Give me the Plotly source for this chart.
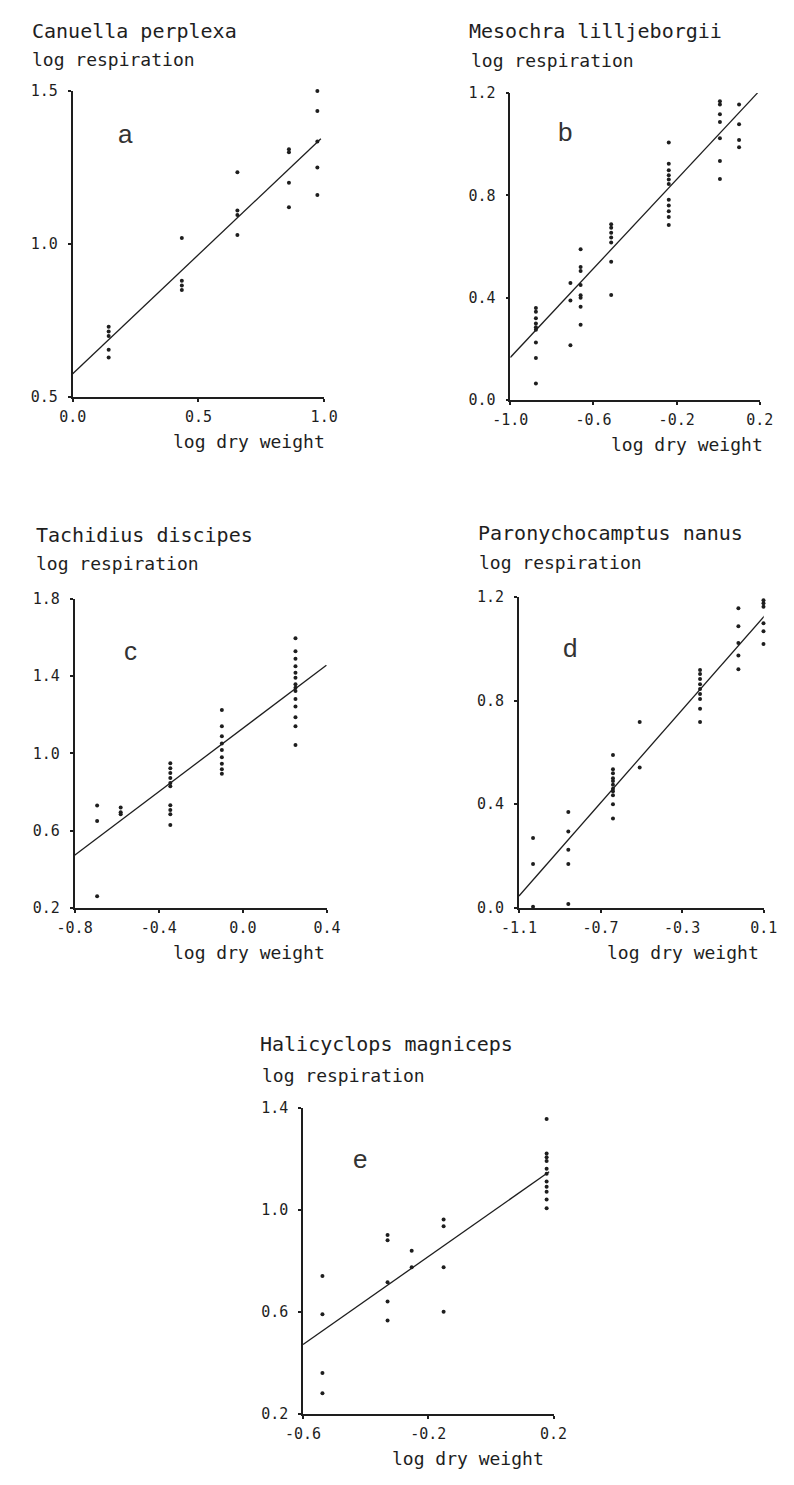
import plotly.graph_objects as go

W, H = 794, 1485

# ---- measured data: log dry weight groups and log respiration per animal ----
# a: Canuella perplexa
a_weight = [0.143, 0.434, 0.655, 0.860, 0.973]
a_resp = [
    [0.73, 0.715, 0.70, 0.655, 0.63],
    [1.02, 0.88, 0.865, 0.85],
    [1.235, 1.11, 1.095, 1.03],
    [1.31, 1.30, 1.20, 1.12],
    [1.50, 1.435, 1.335, 1.25, 1.16],
]
a_fit = (0.577, 0.777)          # intercept, slope
a_fit_span = (0.0, 0.987)

# b: Mesochra lilljeborgii
b_weight = [-0.877, -0.711, -0.662, -0.515, -0.238, 0.008, 0.100]
b_resp = [
    [0.36, 0.345, 0.32, 0.30, 0.285, 0.275, 0.225, 0.165, 0.065],
    [0.458, 0.389, 0.215],
    [0.59, 0.52, 0.505, 0.45, 0.41, 0.40, 0.365, 0.295],
    [0.687, 0.674, 0.654, 0.635, 0.616, 0.541, 0.411],
    [1.007, 0.924, 0.898, 0.879, 0.862, 0.844, 0.783, 0.760, 0.738, 0.716, 0.684],
    [1.168, 1.155, 1.117, 1.087, 1.023, 0.934, 0.864],
    [1.155, 1.078, 1.016, 0.988],
]
b_fit = (1.036, 0.869)
b_fit_span = (-1.0, 0.189)

# c: Tachidius discipes
c_weight = [-0.693, -0.581, -0.345, -0.100, 0.250]
c_resp = [
    [0.73, 0.65, 0.26],
    [0.72, 0.695, 0.685],
    [0.949, 0.923, 0.898, 0.872, 0.847, 0.830, 0.731, 0.707, 0.685, 0.629],
    [1.225, 1.140, 1.089, 1.051, 1.017, 0.980, 0.946, 0.918, 0.894],
    [1.596, 1.528, 1.490, 1.451, 1.417, 1.391, 1.357, 1.340, 1.323, 1.281,
     1.242, 1.187, 1.140, 1.043],
]
c_fit = (1.130, 0.822)
c_fit_span = (-0.8, 0.397)

# d: Paronychocamptus nanus
d_weight = [-1.031, -0.858, -0.639, -0.508, -0.212, -0.024, 0.099]
d_resp = [
    [0.27, 0.17, 0.005],
    [0.37, 0.295, 0.225, 0.17, 0.015],
    [0.59, 0.535, 0.52, 0.50, 0.49, 0.475, 0.46, 0.45, 0.435, 0.40, 0.345],
    [0.717, 0.542],
    [0.918, 0.902, 0.883, 0.863, 0.844, 0.825, 0.806, 0.768, 0.717],
    [1.213, 1.156, 1.086, 1.022, 0.974, 0.921],
    [1.187, 1.175, 1.162, 1.098, 1.067, 1.018],
]
d_fit = (1.033, 0.897)
d_fit_span = (-1.1, 0.109)

# e: Halicyclops magniceps
e_weight = [-0.538, -0.330, -0.253, -0.151, 0.178]
e_resp = [
    [0.74, 0.59, 0.36, 0.28],
    [0.90, 0.88, 0.715, 0.64, 0.565],
    [0.839, 0.774],
    [0.961, 0.935, 0.774, 0.600],
    [1.355, 1.22, 1.205, 1.19, 1.16, 1.14, 1.11, 1.09, 1.07, 1.04, 1.005],
]
e_fit = (0.988, 0.861)
e_fit_span = (-0.6, 0.186)

species = ["Canuella perplexa", "Mesochra lilljeborgii", "Tachidius discipes",
           "Paronychocamptus nanus", "Halicyclops magniceps"]
letters = ["a", "b", "c", "d", "e"]
letter_pos = [(0.21, 1.36), (-0.738, 1.046), (-0.532, 1.528), (-0.85, 1.003), (-0.417, 1.20)]

x_ticks = [[0.0, 0.5, 1.0], [-1.0, -0.6, -0.2, 0.2], [-0.8, -0.4, 0.0, 0.4],
           [-1.1, -0.7, -0.3, 0.1], [-0.6, -0.2, 0.2]]
y_ticks = [[0.5, 1.0, 1.5], [0.0, 0.4, 0.8, 1.2], [0.2, 0.6, 1.0, 1.4, 1.8],
           [0.0, 0.4, 0.8, 1.2], [0.2, 0.6, 1.0, 1.4]]

# ---- page geometry (pixels): plot box left, right, top, bottom ----
boxes = [(57, 319, 83, 393), (513, 773, 85, 396), (59, 322, 597, 910),
         (522, 777, 595, 910), (297, 558, 1112, 1422)]
title_pos = [(12, 22), (468, 22), (17, 532), (477, 530), (250, 1048)]
ylab_pos = [(13, 51), (470, 52), (17, 561), (478, 560), (252, 1080)]
xlab_right = [322, 778, 322, 774, 550]

weights = [a_weight, b_weight, c_weight, d_weight, e_weight]
resps = [a_resp, b_resp, c_resp, d_resp, e_resp]
fits = [a_fit, b_fit, c_fit, d_fit, e_fit]
spans = [a_fit_span, b_fit_span, c_fit_span, d_fit_span, e_fit_span]

INK = "#1e1e1e"
MONO = "DejaVu Sans Mono"

fig = go.Figure()
layout = dict(width=W, height=H, margin=dict(l=0, r=0, t=0, b=0),
              paper_bgcolor="white", plot_bgcolor="white", showlegend=False)
annotations = []

for i in range(5):
    n = "" if i == 0 else str(i + 1)
    xs, ys = [], []
    for w, group in zip(weights[i], resps[i]):
        xs += [w] * len(group)
        ys += group
    fig.add_trace(go.Scatter(x=xs, y=ys, mode="markers", xaxis="x" + n, yaxis="y" + n,
                             marker=dict(size=4, color=INK, symbol="circle"),
                             cliponaxis=False))
    b0, b1 = fits[i]
    lx = list(spans[i])
    fig.add_trace(go.Scatter(x=lx, y=[b0 + b1 * v for v in lx], mode="lines",
                             xaxis="x" + n, yaxis="y" + n,
                             line=dict(color=INK, width=1.3), cliponaxis=False))

    left, right, top, bottom = boxes[i]
    xt, yt = x_ticks[i], y_ticks[i]
    common = dict(showline=True, linecolor=INK, linewidth=1.6, showgrid=False,
                  zeroline=False, ticks="outside", ticklen=3, tickwidth=1.5,
                  tickcolor=INK, tickfont=dict(family=MONO, size=15, color=INK),
                  fixedrange=True)
    layout["xaxis" + n] = dict(common, domain=[left / W, right / W],
                               range=[xt[0], xt[-1]], tickvals=xt,
                               ticktext=[f"{v:.1f}" for v in xt],
                               anchor="y" + n, ticklabelstandoff=2)
    layout["yaxis" + n] = dict(common, domain=[1 - bottom / H, 1 - top / H],
                               range=[yt[0], yt[-1]], tickvals=yt,
                               ticktext=[f"{v:.1f}" for v in yt],
                               anchor="x" + n, ticklabelstandoff=7)

    tx, ty = title_pos[i]
    annotations.append(dict(text=species[i], x=tx / W, y=1 - ty / H, xref="paper",
                            yref="paper", xanchor="left", yanchor="middle",
                            showarrow=False, font=dict(family=MONO, size=20, color=INK)))
    lx_, ly_ = ylab_pos[i]
    annotations.append(dict(text="log respiration", x=lx_ / W, y=1 - ly_ / H,
                            xref="paper", yref="paper", xanchor="left",
                            yanchor="middle", showarrow=False,
                            font=dict(family=MONO, size=18, color=INK)))
    annotations.append(dict(text="log dry weight", x=xlab_right[i] / W,
                            y=1 - (bottom + 45) / H, xref="paper", yref="paper",
                            xanchor="right", yanchor="middle", showarrow=False,
                            font=dict(family=MONO, size=18, color=INK)))
    px, py = letter_pos[i]
    annotations.append(dict(text=letters[i], x=px, y=py, xref="x" + n, yref="y" + n,
                            xanchor="center", yanchor="middle", showarrow=False,
                            font=dict(family="Liberation Sans", size=26, color="#333")))

layout["annotations"] = annotations
fig.update_layout(**layout)
fig.write_html("out.html")
